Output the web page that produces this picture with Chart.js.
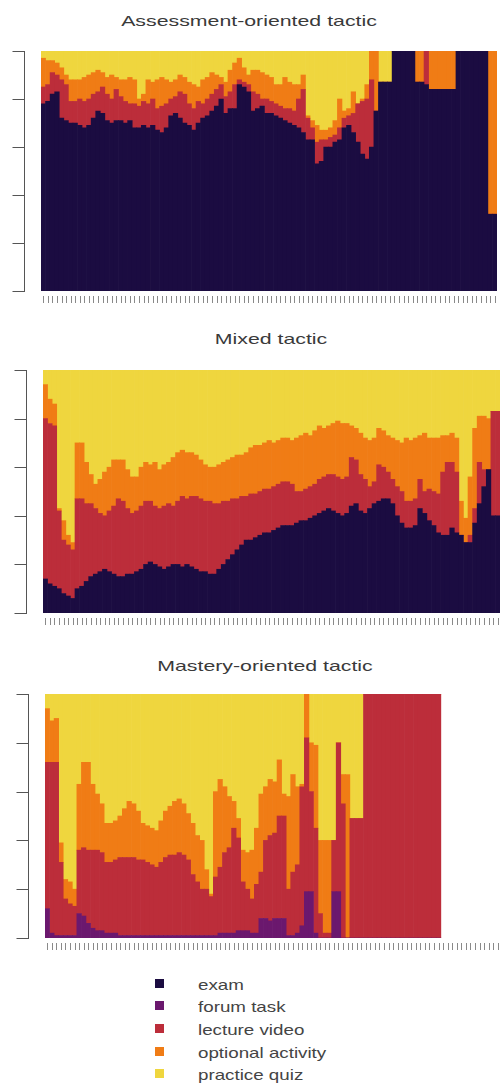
<!DOCTYPE html>
<html>
<head>
<meta charset="utf-8">
<script src="https://cdn.jsdelivr.net/npm/chart.js@4.4.0/dist/chart.umd.min.js"></script>
<style>
  body { margin: 0; background: #fff; width: 500px; height: 1088px; position: relative; overflow: hidden;
         font-family: "Liberation Sans", Arial, sans-serif; }
  canvas { position: absolute; left: 0; }
  .title { position: absolute; font-size: 15px; color: #3a3a3a; white-space: nowrap;
           transform: translate(-50%, -50%) scaleX(1.42); }
  .row { position: absolute; left: 155px; height: 22px; line-height: 22px; font-size: 15px; color: #444; white-space: nowrap; }
  .row span.box { position: absolute; left: 0; top: 5px; width: 9px; height: 9px; }
  .row span.txt { position: absolute; left: 43px; top: 0; transform: scaleX(1.25); transform-origin: left center; }
</style>
</head>
<body>
<div class="title" style="left:249px; top:20px;">Assessment-oriented tactic</div>
<div class="title" style="left:271px; top:338px;">Mixed tactic</div>
<div class="title" style="left:265px; top:665px;">Mastery-oriented tactic</div>
<canvas id="assess" width="500" height="310" style="top:0px"></canvas>
<canvas id="mixed" width="500" height="310" style="top:320px"></canvas>
<canvas id="mastery" width="500" height="310" style="top:645px"></canvas>
<div id="legend"></div>
<script>
const seriesNames = ["exam", "forum task", "lecture video", "optional activity", "practice quiz"];
const seriesColors = ["#1b0c41", "#6b186e", "#bc2d3a", "#f07c15", "#efd63e"];
const sessions = Array.from({ length: 100 }, (_, i) => String(i + 1));
const yTicks = [0, 20, 40, 60, 80, 100];

// Assessment-oriented tactic (% of actions per session)
const assessExam = [78,79,82,83,72,71,70,70,69,68, 69,72,75,74,71,70,71,71,70,71, 68,68,69,68,69,67,66,68,73,74,
  72,70,69,67,70,72,73,75,77,80, 74,76,76,86,85,83, 75,76,77,74, 74,73,72,71,70,69,68,66,63,63,
  53,54,60,60,62,63,68,69,66,62, 57,55,60,75,87,87,87,100,100,100, 100,100,87,87,86,84,84,84,84,84,
  84,100,100,100,100,100,100,100,32,32];
const assessLecture = [7,7,9,7,16,15,9,9,11,11, 11,10,8,11,11,10,13,10,9,7, 10,9,10,10,11,9,11,10,7,7,
  11,12,9,9,9,6,7,7,7,6, 7,7,10,2,2,3, 8,6,3,6, 5,5,5,5,6,6,12,18,9,5,
  9,9,3,4,3,5,4,4,8,16, 22,25,28,0,0,0,0,0,0,0, 0,0,0,0,14,0,0,0,0,0,
  0,0,0,0,0,0,0,0,0,0];
const assessOptional = [12,10,5,5,5,4,9,9,8,10, 10,9,9,6,7,10,5,7,9,11, 10,3,3,10,7,12,12,10,7,7,
  7,7,9,10,6,10,9,9,6,3, 6,9,9,9,6,4, 9,10,11,10, 10,8,9,13,11,11,6,6,1,3,
  7,4,4,4,6,12,3,3,9,0, 1,6,12,25,0,0,0,0,0,0, 0,0,13,13,0,16,16,16,16,16,
  16,0,0,0,0,0,0,0,68,68];
const assessQuiz = [3,4,4,5,7,10,12,12,12,11, 10,9,8,9,11,10,11,12,12,11, 12,20,18,12,13,12,11,12,13,12,
  10,11,13,14,15,12,11,9,10,11, 13,8,5,3,7,10, 8,8,9,10, 11,14,14,11,13,14,14,10,27,29,
  31,33,33,32,29,20,25,24,17,22, 20,14,0,0,13,13,13,0,0,0, 0,0,0,0,0,0,0,0,0,0,
  0,0,0,0,0,0,0,0,0,0];

// Mixed tactic
const mixedExam = [14,12,11,10,8,7,6,10,11,13, 15,16,17,18,17,16,15,15,16,16, 17,18,20,21,20,19,18,19,20,20,
  19,20,19,18,17,17,16,16,18,20, 22,24,26,28,30,
  30,31,32,33,33,34,35,36,36,36, 37,38,38,39,40,41,42,43,42,41, 40,41,44,45,42,41,43,45,46,47,
  47,45,40,37,35,35,36,43,41,38, 36,33,32,32,35,33,32,29,29,37, 45,52,59,40,40];
const mixedLecture = [66,66,66,32,22,21,20,37,36,32, 30,27,24,22,25,28,32,31,27,25, 25,26,26,25,24,24,26,26,24,26,
  29,27,29,30,30,29,30,29,27,26, 24,23,21,20,18,
  19,18,18,18,18,18,18,18,18,17, 13,12,13,13,13,14,14,14,15,15, 15,15,20,18,15,14,9,9,15,13,
  11,10,12,13,11,11,11,12,9,13, 14,16,26,30,27,25,0,0,3,6, 17,7,0,43,43];
const mixedOptional = [14,10,9,1,8,4,3,23,23,17, 12,10,14,18,18,19,16,17,16,15, 14,16,16,15,18,16,17,17,20,20,
  19,19,18,17,16,15,14,15,16,16, 17,17,18,17,18,
  19,20,19,19,20,18,18,18,18,18, 22,23,23,21,22,22,20,20,21,23, 23,22,13,13,17,17,19,18,15,15,
  15,17,19,20,26,25,25,18,24,21, 22,23,15,11,12,14,14,10,24,33, 19,22,21,0,0];
const mixedQuiz = [6,12,14,57,62,68,71,30,30,38, 43,47,45,42,40,37,37,37,41,44, 44,40,38,39,38,41,39,38,36,34,
  33,34,34,35,37,39,40,40,39,38, 37,36,35,35,34,
  32,31,31,30,29,30,29,28,28,29, 28,27,26,27,25,23,24,23,22,21, 22,22,23,24,26,28,29,28,24,25,
  27,28,29,30,28,29,28,27,26,28, 28,28,27,27,26,28,54,61,44,24, 19,19,20,17,17];

// Mastery-oriented tactic
const masteryForum = [12,2,1,1,1,1,1,10,9,6, 4,3,3,2,2,2,1,1,1,1, 1,1,1,1,1,1,1,1,1,1,
  1,1,1,1,1,1,1,1,2,2, 2,2,3,3,3,2,2,8,8,7, 8,8,8,1,1,2,5,19,19,2,
  0,0,0,19,19,0,0,0,0,0, 0,0,0,0,0,0,0,0,0,0, 0,0,0,0,0,0,0,null,null,null,
  null,null,null,null,null,null,null,null,null,null];
const masteryLecture = [60,70,71,30,15,13,12,26,28,30, 32,33,32,29,29,30,32,32,32,32, 31,31,30,29,28,30,32,33,33,34,
  33,31,25,22,19,19,16,24,27,33, 35,43,38,20,17,14,20,19,32,35, 35,42,42,19,26,28,57,63,41,43,
  10,2,2,21,61,55,0,49,49,49, 100,100,100,100,100,100,100,100,100,100, 100,100,100,100,100,100,100,null,null,null,
  null,null,null,null,null,null,null,null,null,null];
const masteryOptional = [22,17,18,8,8,9,7,27,35,36, 27,23,20,16,16,16,17,20,23,22, 20,15,15,15,15,17,19,20,22,22,
  21,19,21,19,20,8,1,35,36,27, 21,11,8,13,15,20,23,32,22,23, 21,23,9,38,40,32,1,18,20,34,
  30,38,38,0,0,12,67,0,0,0, 0,0,0,0,0,0,0,0,0,0, 0,0,0,0,0,0,0,null,null,null,
  null,null,null,null,null,null,null,null,null,null];
const masteryQuiz = [6,11,10,61,76,77,80,37,28,28, 37,41,45,53,53,52,50,47,44,45, 48,53,54,55,56,52,48,46,44,43,
  45,49,53,58,60,72,82,40,35,38, 42,44,51,64,65,64,55,41,38,35, 36,27,41,42,33,38,37,0,20,21,
  60,60,60,60,20,33,33,51,51,51, 0,0,0,0,0,0,0,0,0,0, 0,0,0,0,0,0,0,null,null,null,
  null,null,null,null,null,null,null,null,null,null];

// bracket-style y axis and little x ticks, drawn off the chart scales
const axisPlugin = {
  id: "bracketAxes",
  afterDraw(chart) {
    const { ctx, chartArea, scales } = chart;
    const ax = Math.round(chartArea.left - 17) + 0.5;
    ctx.save();
    ctx.lineWidth = 1;
    ctx.strokeStyle = "#555";
    ctx.beginPath();
    ctx.moveTo(ax, scales.y.getPixelForValue(0));
    ctx.lineTo(ax, scales.y.getPixelForValue(100));
    yTicks.forEach(v => {
      const py = Math.round(scales.y.getPixelForValue(v)) + 0.5;
      ctx.moveTo(ax - 12, py);
      ctx.lineTo(ax + 0.5, py);
    });
    ctx.stroke();
    ctx.strokeStyle = "#8a8a8a";
    ctx.beginPath();
    sessions.forEach((s, i) => {
      const px = Math.round(scales.x.getPixelForValue(i)) + 0.5;
      ctx.moveTo(px, chartArea.bottom + 5);
      ctx.lineTo(px, chartArea.bottom + 12);
    });
    ctx.stroke();
    ctx.restore();
  }
};

function makeChart(id, series, pad) {
  return new Chart(document.getElementById(id), {
    type: "bar",
    data: {
      labels: sessions,
      datasets: series.map(s => ({
        label: seriesNames[s.idx],
        data: s.data,
        backgroundColor: seriesColors[s.idx],
        borderWidth: 0,
        barPercentage: 1,
        categoryPercentage: 1
      }))
    },
    options: {
      responsive: false,
      animation: false,
      layout: { padding: pad },
      plugins: { legend: { display: false }, tooltip: { enabled: false } },
      scales: {
        x: { stacked: true, display: false },
        y: { stacked: true, display: false, min: 0, max: 100 }
      }
    },
    plugins: [axisPlugin]
  });
}

makeChart("assess", [
  { idx: 0, data: assessExam },
  { idx: 2, data: assessLecture },
  { idx: 3, data: assessOptional },
  { idx: 4, data: assessQuiz }
], { top: 51, bottom: 19, left: 41, right: 3 });

makeChart("mixed", [
  { idx: 0, data: mixedExam },
  { idx: 2, data: mixedLecture },
  { idx: 3, data: mixedOptional },
  { idx: 4, data: mixedQuiz }
], { top: 50, bottom: 17, left: 43, right: 0 });

makeChart("mastery", [
  { idx: 1, data: masteryForum },
  { idx: 2, data: masteryLecture },
  { idx: 3, data: masteryOptional },
  { idx: 4, data: masteryQuiz }
], { top: 49, bottom: 17, left: 45, right: 0 });

const legend = document.getElementById("legend");
const rowTops = [974, 996, 1019, 1042, 1064];
seriesNames.forEach((name, i) => {
  const row = document.createElement("div");
  row.className = "row";
  row.style.top = rowTops[i] + "px";
  row.innerHTML = '<span class="box" style="background:' + seriesColors[i] + '"></span><span class="txt">' + name + '</span>';
  legend.appendChild(row);
});
</script>
</body>
</html>
